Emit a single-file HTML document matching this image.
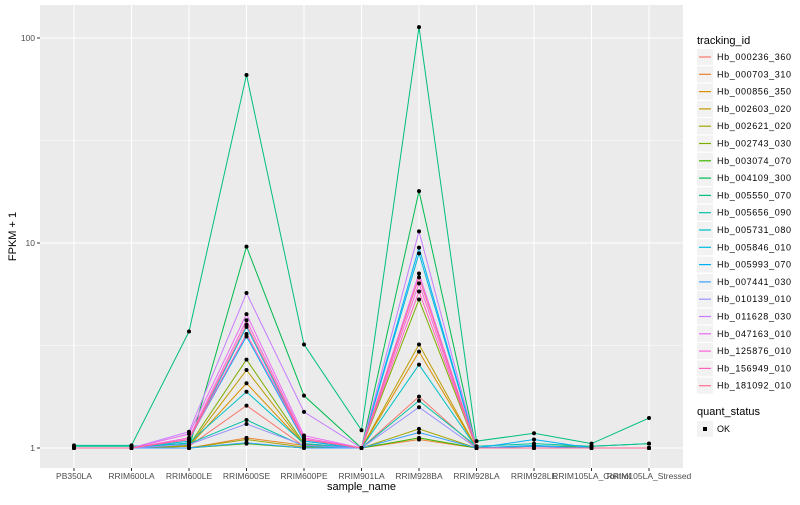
<!DOCTYPE html>
<html><head><meta charset="utf-8"><style>
body{margin:0;background:#fff;font-family:"Liberation Sans",sans-serif}
svg text{font-family:"Liberation Sans",sans-serif}
</style></head><body>
<svg id="c" width="800" height="500"></svg>
<script>
const samples=["PB350LA","RRIM600LA","RRIM600LE","RRIM600SE","RRIM600PE","RRIM901LA","RRIM928BA","RRIM928LA","RRIM928LE","RRIM105LA_Control","RRIM105LA_Stressed"];
const genes=["Hb_000236_360","Hb_000703_310","Hb_000856_350","Hb_002603_020","Hb_002621_020","Hb_002743_030","Hb_003074_070","Hb_004109_300","Hb_005550_070","Hb_005656_090","Hb_005731_080","Hb_005846_010","Hb_005993_070","Hb_007441_030","Hb_010139_010","Hb_011628_030","Hb_047163_010","Hb_125876_010","Hb_156949_010","Hb_181092_010"];
const colors=["#F8766D","#EA8331","#D89000","#C09B00","#A3A500","#7CAE00","#39B600","#00BB4E","#00BF7D","#00C1A3","#00BFC4","#00BAE0","#00B0F6","#35A2FF","#9590FF","#C77CFF","#E76BF3","#FA62DB","#FF62BC","#FF6C91"];
const g0=[1,1,1.02,1.61,1.02,1,1.78,1,1,1,1];
const g1=[1,1,1,1.12,1.03,1,1.1,1,1,1,1];
const g2=[1,1,1.02,2.07,1.04,1,2.95,1,1,1,1];
const g3=[1,1,1.02,2.4,1.04,1,3.2,1,1,1,1];
const g4=[1,1,1,1.1,1.01,1,1.24,1,1,1,1];
const g5=[1,1,1.03,2.7,1.05,1,5.3,1,1,1,1];
const g6=[1,1,1,1.05,1,1,1.12,1,1.02,1.02,1.05];
const g7=[1,1,1,9.6,1.8,1,17.9,1,1,1,1];
const g8=[1.03,1.03,3.7,66,3.2,1.22,113,1.08,1.18,1.05,1.4];
const g9=[1.02,1.02,1.05,1.37,1.02,1,1.7,1.02,1.05,1.02,1.05];
const g10=[1,1,1.06,1.88,1.05,1,2.55,1,1,1,1];
const g11=[1,1,1.08,3.9,1.08,1,8.9,1,1.03,1,1];
const g12=[1,1,1.1,3.5,1.08,1,9.5,1,1.1,1,1];
const g13=[1,1,1,1.06,1,1,1.19,1,1.02,1,1];
const g14=[1,1,1.04,1.31,1.03,1,1.58,1,1,1,1];
const g15=[1,1,1.2,5.7,1.5,1,11.4,1,1,1,1];
const g16=[1,1,1.17,4.5,1.15,1,7.1,1,1,1,1];
const g17=[1,1,1.12,4.2,1.12,1,6.35,1,1,1,1];
const g18=[1,1,1.1,3.6,1.1,1,5.8,1,1,1,1];
const g19=[1,1,1.1,4.0,1.1,1,6.8,1,1,1,1];
const series=[g0,g1,g2,g3,g4,g5,g6,g7,g8,g9,g10,g11,g12,g13,g14,g15,g16,g17,g18,g19];
const yTicks=[1,10,100];
const NS="http://www.w3.org/2000/svg",svg=document.getElementById("c");
function mk(t,a,p){const e=document.createElementNS(NS,t);for(const k in a)e.setAttribute(k,a[k]);(p||svg).appendChild(e);return e;}
const L=40,R=683,T=5,B=468;
const x=i=>74+i*57.5;
const y=v=>448-205*Math.log10(v);
let e=mk("rect",{x:L,y:T,width:R-L,height:B-T,fill:"#EBEBEB"});

[Math.sqrt(10),Math.sqrt(1000)].forEach(v=>mk("line",{x1:L,x2:R,y1:y(v),y2:y(v),stroke:"#fff","stroke-width":0.5}));
yTicks.forEach(v=>{mk("line",{x1:L,x2:R,y1:y(v),y2:y(v),stroke:"#fff","stroke-width":1});
 mk("line",{x1:L-3,x2:L,y1:y(v),y2:y(v),stroke:"#333"});
 const t=mk("text",{x:L-5,y:y(v)+3,"text-anchor":"end","font-size":"8.5",fill:"#4D4D4D"});t.textContent=v;
 });
samples.forEach((s,i)=>{mk("line",{x1:x(i),x2:x(i),y1:T,y2:B,stroke:"#fff","stroke-width":1});
 mk("line",{x1:x(i),x2:x(i),y1:B,y2:B+3,stroke:"#333"});
 const t=mk("text",{x:x(i),y:B+11,"text-anchor":"middle","font-size":"8.5",fill:"#4D4D4D"});t.textContent=s;
 });
series.forEach((d,gi)=>{const p=mk("polyline",{points:d.map((v,i)=>x(i)+","+y(v)).join(" "),fill:"none",stroke:colors[gi],"stroke-width":1});
 });
series.forEach(d=>d.forEach((v,i)=>{const c=mk("circle",{cx:x(i),cy:y(v),r:2,fill:"#000"});
 }));
let t=mk("text",{x:(L+R)/2,y:490,"text-anchor":"middle","font-size":"11",fill:"#000"});t.textContent="sample_name";

t=mk("text",{x:16,y:(T+B)/2,"text-anchor":"middle","font-size":"11",fill:"#000",transform:"rotate(-90 16 "+((T+B)/2)+")"});t.textContent="FPKM + 1";

t=mk("text",{x:697,y:44,"font-size":"11",fill:"#000"});t.textContent="tracking_id";

genes.forEach((g,i)=>{const yy=49+i*17.3;const gr=mk("g",{});
 
 mk("rect",{x:697,y:yy,width:16,height:16,fill:"#F2F2F2"},gr);
 mk("line",{x1:699,x2:711,y1:yy+8,y2:yy+8,stroke:colors[i],"stroke-width":1.2},gr);
 const tx=mk("text",{x:717,y:yy+11,"font-size":"9","textLength":"74",fill:"#000"},gr);tx.textContent=g;});
t=mk("text",{x:697,y:415,"font-size":"11",fill:"#000"});t.textContent="quant_status";

const gq=mk("g",{});
mk("rect",{x:697,y:421,width:16,height:16,fill:"#F2F2F2"},gq);
mk("rect",{x:703,y:427,width:4,height:4,fill:"#000"},gq);
const ok=mk("text",{x:717,y:432,"font-size":"9",fill:"#000"},gq);ok.textContent="OK";
</script>
</body></html>
